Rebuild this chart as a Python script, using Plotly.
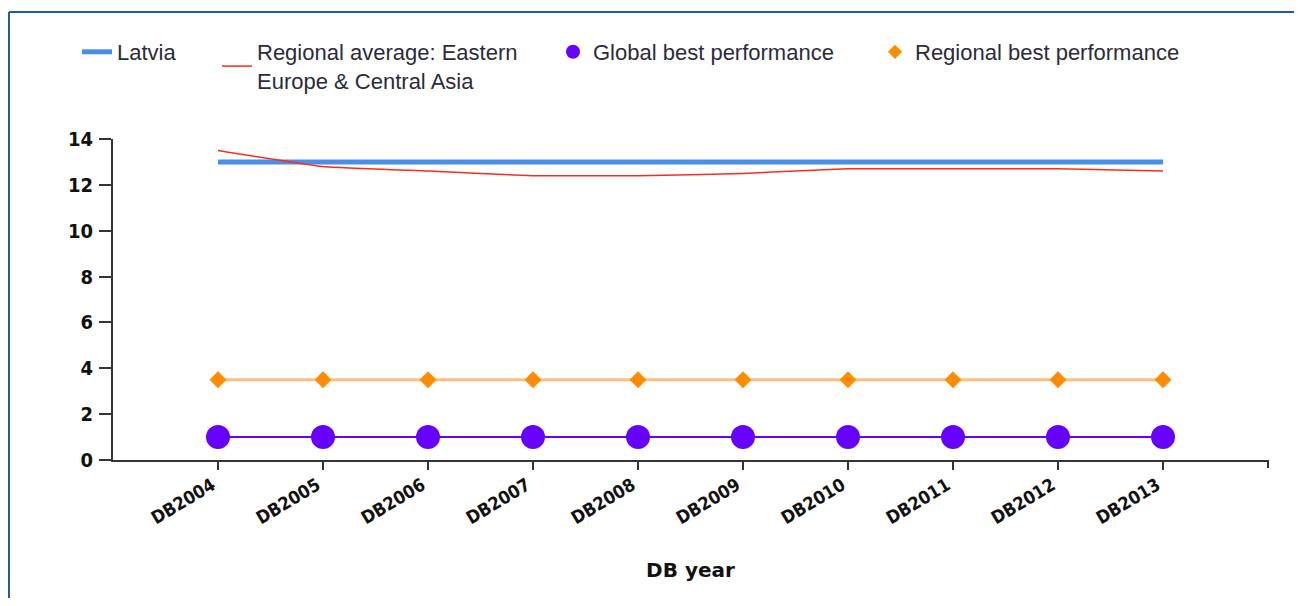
import plotly.graph_objects as go

years = ["DB2004", "DB2005", "DB2006", "DB2007", "DB2008",
         "DB2009", "DB2010", "DB2011", "DB2012", "DB2013"]
latvia = [13, 13, 13, 13, 13, 13, 13, 13, 13, 13]
regional_avg = [13.5, 12.8, 12.6, 12.4, 12.4, 12.5, 12.7, 12.7, 12.7, 12.6]
global_best = [1, 1, 1, 1, 1, 1, 1, 1, 1, 1]
regional_best = [3.5, 3.5, 3.5, 3.5, 3.5, 3.5, 3.5, 3.5, 3.5, 3.5]
y_ticks = [0, 2, 4, 6, 8, 10, 12, 14]

# the page body adds an 8px margin, so screen px = figure px + 8
OFF = 8
W, H = 1286, 590
L, T = 113 - OFF, 139 - OFF
R = W - (1268 - OFF)
B = H - (460 - OFF)
PW, PH = W - L - R, H - T - B


def px_x(px):
    return (px - OFF - L) / PW


def px_y(py):
    return (H - B - (py - OFF)) / PH


fig = go.Figure()

fig.add_trace(go.Scatter(
    x=years, y=regional_best, mode="lines+markers", showlegend=False,
    line={"color": "#ffbf80", "width": 3},
    marker={"symbol": "diamond", "size": 13, "color": "#ff8c00"},
))
fig.add_trace(go.Scatter(
    x=years, y=global_best, mode="lines+markers", showlegend=False,
    line={"color": "#6600ff", "width": 2},
    marker={"symbol": "circle", "size": 24, "color": "#6600ff"},
))
fig.add_trace(go.Scatter(
    x=years, y=latvia, mode="lines", name="Latvia", legend="legend",
    line={"color": "#4a8ee8", "width": 5},
))
fig.add_trace(go.Scatter(
    x=years, y=regional_avg, mode="lines", legend="legend2",
    name="Regional average: Eastern<br>Europe & Central Asia",
    line={"color": "#ff2a1a", "width": 1.5, "shape": "spline", "smoothing": 0.4},
))
# legend-only entries showing just the marker
fig.add_trace(go.Scatter(
    x=[None], y=[None], mode="markers", name="Global best performance",
    legend="legend3", marker={"symbol": "circle", "size": 14, "color": "#6600ff"},
))
fig.add_trace(go.Scatter(
    x=[None], y=[None], mode="markers", name="Regional best performance",
    legend="legend4", marker={"symbol": "diamond", "size": 11, "color": "#ff8c00"},
))

legend_font = {"family": "Liberation Sans, Arial, sans-serif", "size": 22, "color": "#2b2b3a"}
legend_base = dict(orientation="h", xanchor="left", yanchor="top", y=px_y(31),
                   font=legend_font, bgcolor="rgba(0,0,0,0)", itemwidth=30)

axis_font = {"family": "DejaVu Sans Condensed, DejaVu Sans, sans-serif", "size": 19,
             "color": "#111111", "weight": "bold"}

fig.update_xaxes(
    type="category", range=[-1, 10], showgrid=False, zeroline=False,
    showline=True, linecolor="#333333", linewidth=2,
    ticks="outside", ticklen=8, tickwidth=2, tickcolor="#333333",
    tickangle=-31, tickfont={**axis_font, "size": 18},
    ticklabelshift=-6, ticklabelstandoff=-2,
    title={"text": "DB year", "font": {**axis_font, "family": "DejaVu Sans", "size": 20},
           "standoff": 36},
)
fig.update_yaxes(
    range=[0, 14], tickvals=y_ticks, showgrid=False, zeroline=False,
    showline=True, linecolor="#333333", linewidth=2,
    ticks="outside", ticklen=12, tickwidth=2, tickcolor="#333333",
    tickfont={**axis_font, "size": 20}, ticklabelstandoff=2,
)

shapes = [
    # outer frame (left and top edges)
    dict(type="line", xref="paper", yref="paper", x0=px_x(9), x1=px_x(9),
         y0=px_y(12), y1=px_y(610), line={"color": "#1f5aa6", "width": 2}),
    dict(type="line", xref="paper", yref="paper", x0=px_x(9), x1=px_x(1310),
         y0=px_y(12), y1=px_y(12), line={"color": "#1f5aa6", "width": 2}),
    # closing tick at the right end of the x axis
    dict(type="line", xref="paper", yref="paper", x0=1, x1=1,
         y0=0, y1=px_y(468), line={"color": "#333333", "width": 2}),
]

fig.update_layout(
    width=W, height=H,
    margin={"l": L, "r": R, "t": T, "b": B},
    paper_bgcolor="#ffffff", plot_bgcolor="#ffffff",
    shapes=shapes,
    legend={**legend_base, "x": px_x(77)},
    legend2={**legend_base, "x": px_x(217)},
    legend3={**legend_base, "x": px_x(553)},
    legend4={**legend_base, "x": px_x(875)},
)

fig.write_html("out.html")
